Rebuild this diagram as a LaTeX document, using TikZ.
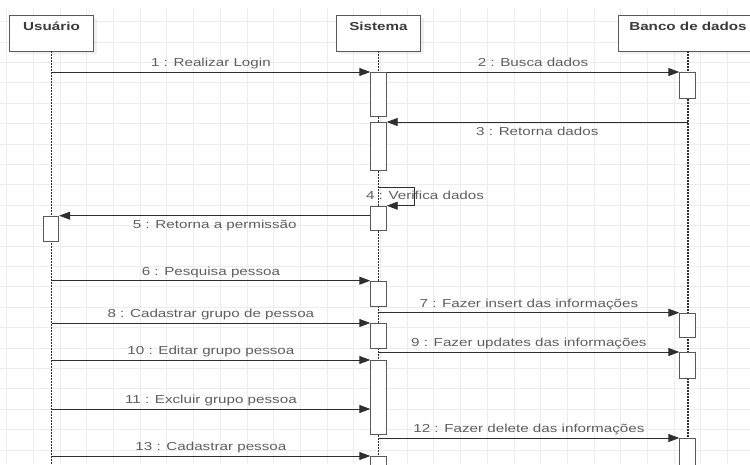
\documentclass[tikz,border=0pt]{standalone}
\usepackage{fontspec}
\newfontfamily\umlfont[FakeStretch=1.31]{Liberation Sans}
\usepackage{tikz}
\usetikzlibrary{shapes, arrows.meta, calc, shadows}
\definecolor{gridgray}{HTML}{EDEDED}
\definecolor{boxgray}{HTML}{595959}
\definecolor{linegray}{HTML}{2E2E2E}
\definecolor{textdark}{HTML}{3A3A3A}
\definecolor{textgray}{HTML}{5E5E5E}
\tikzstyle{gridline} = [draw=gridgray, line width=1pt]
\tikzstyle{lifebox} = [rectangle, draw=boxgray, fill=white, line width=0.9pt, minimum width=84pt, minimum height=36pt, text height=8.5pt, text depth=14pt, inner sep=0pt, text=textdark, font=\umlfont\bfseries\fontsize{11.6}{13}\selectfont, drop shadow={shadow xshift=3pt, shadow yshift=-3pt, opacity=0.12}]
\tikzstyle{activation} = [rectangle, draw=boxgray, fill=white, line width=0.9pt, minimum width=15.5pt, anchor=north, inner sep=0pt]
\tikzstyle{lifeline} = [draw=linegray, line width=1.5pt, dash pattern=on 1.5pt off 1.5pt]
\tikzstyle{edge} = [line width=0.9pt, draw=linegray, -{Triangle[length=11pt,width=8pt]}]
\tikzstyle{msgtext} = [text=textgray, font=\umlfont\fontsize{11.6}{13}\selectfont]
\tikzstyle{msg} = [msgtext, midway, anchor=base, yshift=5.5pt]
\tikzstyle{msgbelow} = [msg, yshift=-18.5pt]

\begin{document}
\begin{tikzpicture}[x=1pt, y=-1pt]
\useasboundingbox (0,0) rectangle (750,464);
\clip (0,0) rectangle (750,464);

\foreach \i in {0,...,27}
  \draw[gridline] ({6.7+26.7*\i},8) -- ({6.7+26.7*\i},464);
\foreach \j in {1,...,22}
  \draw[gridline] (0,{1.3+20.4*\j}) -- (750,{1.3+20.4*\j});

\node (usr) [lifebox] at (51.5,33) {Usuário};
\node (sys) [lifebox] at (378.5,33) {Sistema};
\node (bd) [lifebox, minimum width=140pt] at (688,33) {Banco de dados};

\coordinate (usrend) at (51.5,470);
\coordinate (sysend) at (378.5,470);
\coordinate (bdend) at (688,470);
\draw[lifeline] (usr.south) -- (usrend);
\draw[lifeline] (sys.south) -- (sysend);
\draw[lifeline] (bd.south) -- (bdend);

\node (s1) [activation, minimum height=43.7pt] at (378.5,72) {};
\node (s2) [activation, minimum height=48pt] at (378.5,122) {};
\node (s3) [activation, minimum height=24.3pt] at (378.5,205.7) {};
\node (s4) [activation, minimum height=25pt] at (378.5,280.7) {};
\node (s5) [activation, minimum height=25pt] at (378.5,323) {};
\node (s6) [activation, minimum height=74pt] at (378.5,360) {};
\node (s7) [activation, minimum height=30pt] at (378.5,456) {};
\node (u1) [activation, minimum height=25pt] at (51,215.7) {};
\node (b1) [activation, minimum height=25.7pt] at (687.5,72) {};
\node (b2) [activation, minimum height=24.5pt] at (687.5,312.7) {};
\node (b3) [activation, minimum height=25.7pt] at (687.5,352) {};
\node (b4) [activation, minimum height=40pt] at (687.5,438) {};
\coordinate (loop) at (414,187);

\draw [edge] (usr.south |- s1.north) -- (s1.north west) node[msg]{1 : Realizar Login};
\draw [edge] (s1.north east) -- (b1.north west) node[msg]{2 : Busca dados};
\draw [edge] (bd.south |- s2.north) -- (s2.north east) node[msgbelow]{3 : Retorna dados};
\draw [edge] (sys.south |- loop) -- (loop) |- (s3.north east);
\node (l4) [msgtext, anchor=base] at ($(loop)+(11,12.3)$) {4 : Verifica dados};
\draw [edge] (s3.west |- u1.north) -- (u1.north east) node[msgbelow]{5 : Retorna a permissão};
\draw [edge] (usr.south |- s4.north) -- (s4.north west) node[msg]{6 : Pesquisa pessoa};
\draw [edge] (sys.south |- b2.north) -- (b2.north west) node[msg]{7 : Fazer insert das informações};
\draw [edge] (usr.south |- s5.north) -- (s5.north west) node[msg]{8 : Cadastrar grupo de pessoa};
\draw [edge] (sys.south |- b3.north) -- (b3.north west) node[msg]{9 : Fazer updates das informações};
\draw [edge] (usr.south |- s6.north) -- (s6.north west) node[msg]{10 : Editar grupo pessoa};
\coordinate (m11) at (51.5,409);
\draw [edge] (m11) -- (s6.west |- m11) node[msg]{11 : Excluir grupo pessoa};
\draw [edge] (sys.south |- b4.north) -- (b4.north west) node[msg]{12 : Fazer delete das informações};
\draw [edge] (usr.south |- s7.north) -- (s7.north west) node[msg]{13 : Cadastrar pessoa};

\end{tikzpicture}
\end{document}
